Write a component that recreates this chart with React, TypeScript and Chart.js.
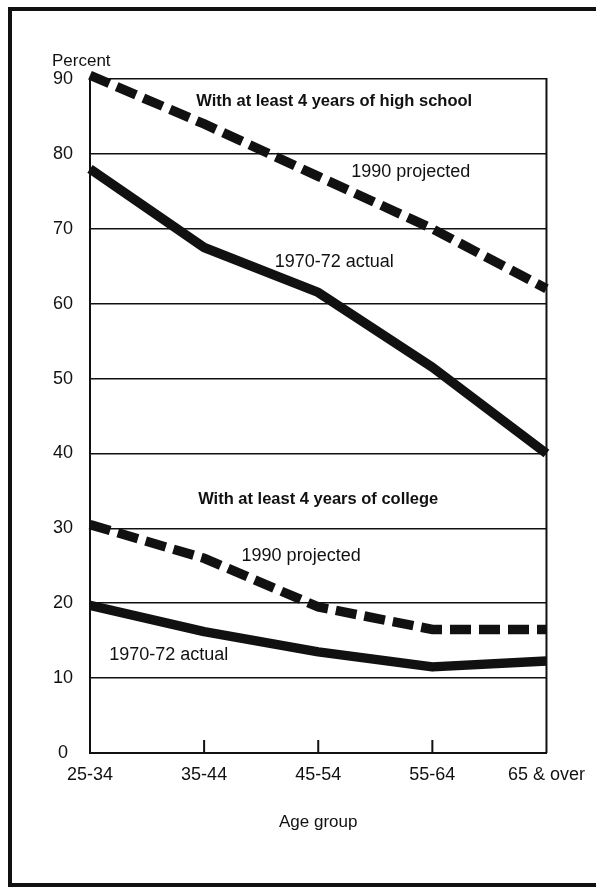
import React, { useEffect, useRef } from "react";
import { Chart, registerables } from "chart.js";

Chart.register(...registerables);

const categories = ["25-34", "35-44", "45-54", "55-64", "65 & over"];
const highSchoolProjected = [90.5, 84, 77, 70, 62];
const highSchoolActual = [78, 67.5, 61.5, 51.5, 40];
const collegeProjected = [30.5, 26, 19.5, 16.5, 16.5];
const collegeActual = [19.7, 16.2, 13.5, 11.5, 12.3];
const yTicks = [0, 10, 20, 30, 40, 50, 60, 70, 80, 90];

// annotation texts: [text, category index (fractional), value, bold]
const annotations: [string, number, number, boolean][] = [
  ["With at least 4 years of high school", 2.14, 87.0, true],
  ["1990 projected", 2.81, 77.6, false],
  ["1970-72 actual", 2.14, 65.6, false],
  ["With at least 4 years of college", 2.0, 33.8, true],
  ["1990 projected", 1.85, 26.3, false],
  ["1970-72 actual", 0.69, 13.1, false],
];

const INK = "#111111";
const FONT = "'Liberation Sans', Arial, Helvetica, sans-serif";

const decor = {
  id: "decor",
  beforeDatasetsDraw(chart: any) {
    const { ctx, chartArea: a, scales } = chart;
    const x = scales.x;
    ctx.save();
    ctx.strokeStyle = INK;
    ctx.lineWidth = 2;
    ctx.beginPath();
    ctx.moveTo(a.right, a.top - 1);
    ctx.lineTo(a.right, a.bottom);
    for (let i = 1; i < categories.length - 1; i++) {
      const px = x.getPixelForTick(i);
      ctx.moveTo(px, a.bottom);
      ctx.lineTo(px, a.bottom - 13);
    }
    ctx.stroke();
    ctx.fillStyle = INK;
    ctx.font = `17px ${FONT}`;
    ctx.textAlign = "left";
    ctx.textBaseline = "middle";
    ctx.fillText("Percent", a.left - 38, a.top - 18);
    ctx.restore();
  },
  afterDatasetsDraw(chart: any) {
    const { ctx, scales } = chart;
    ctx.save();
    ctx.fillStyle = INK;
    ctx.textAlign = "center";
    ctx.textBaseline = "middle";
    for (const [text, xi, v, bold] of annotations) {
      ctx.font = bold ? `bold 16.5px ${FONT}` : `18px ${FONT}`;
      ctx.fillText(text, scales.x.getPixelForValue(xi), scales.y.getPixelForValue(v));
    }
    ctx.restore();
  },
};

export default function App() {
  const ref = useRef<HTMLCanvasElement | null>(null);
  useEffect(() => {
    if (!ref.current) return;
    const solid = (data: number[]) => ({
      data,
      borderColor: INK,
      borderWidth: 9.5,
      pointRadius: 0,
      tension: 0,
      fill: false,
      clip: false as any,
      borderCapStyle: "butt" as const,
      borderJoinStyle: "round" as const,
    });
    const dashed = (data: number[]) => ({
      ...solid(data),
      borderWidth: 9.5,
      borderDash: [21, 8],
      borderJoinStyle: "miter" as const,
    });
    const chart = new Chart(ref.current, {
      type: "line",
      data: {
        labels: categories,
        datasets: [
          { label: "High school 1990 projected", ...dashed(highSchoolProjected) },
          { label: "High school 1970-72 actual", ...solid(highSchoolActual) },
          { label: "College 1990 projected", ...dashed(collegeProjected) },
          { label: "College 1970-72 actual", ...solid(collegeActual) },
        ],
      },
      options: {
        responsive: false,
        animation: false,
        events: [],
        layout: { padding: { left: 0, right: 48, top: 71, bottom: 52 } },
        plugins: { legend: { display: false }, tooltip: { enabled: false }, title: { display: false } },
        scales: {
          x: {
            type: "category",
            offset: false,
            grid: { display: false, drawTicks: false },
            border: { display: true, color: INK, width: 2 },
            ticks: { color: INK, font: { family: FONT, size: 18 }, padding: 11, maxRotation: 0, autoSkip: false },
            title: { display: true, text: "Age group", color: INK, font: { family: FONT, size: 17 }, padding: { top: 0, bottom: 0 } },
            afterFit: (s: any) => { s.height = 80; },
          },
          y: {
            min: 0,
            max: 90,
            afterBuildTicks: (s: any) => { s.ticks = yTicks.map((v) => ({ value: v })); },
            grid: { color: INK, lineWidth: 1.5, drawTicks: false },
            border: { display: true, color: INK, width: 2 },
            ticks: { color: INK, font: { family: FONT, size: 18 }, padding: 17, crossAlign: "center" },
            afterFit: (s: any) => { s.width = 82; },
          },
        },
      },
      plugins: [decor],
    });
    return () => chart.destroy();
  }, []);

  return (
    <div style={{ position: "fixed", left: 0, top: 0, width: 602, height: 888, overflow: "hidden", background: "#fff" }}>
      <canvas
        ref={ref}
        width={588}
        height={877}
        style={{ position: "absolute", left: 8, top: 8, width: 588, height: 877 }}
      />
      <div
        style={{
          position: "absolute",
          left: 8,
          top: 7,
          width: 588,
          height: 880,
          boxSizing: "border-box",
          borderLeft: `4px solid ${INK}`,
          borderTop: `4px solid ${INK}`,
          borderBottom: `4px solid ${INK}`,
          pointerEvents: "none",
        }}
      />
    </div>
  );
}
